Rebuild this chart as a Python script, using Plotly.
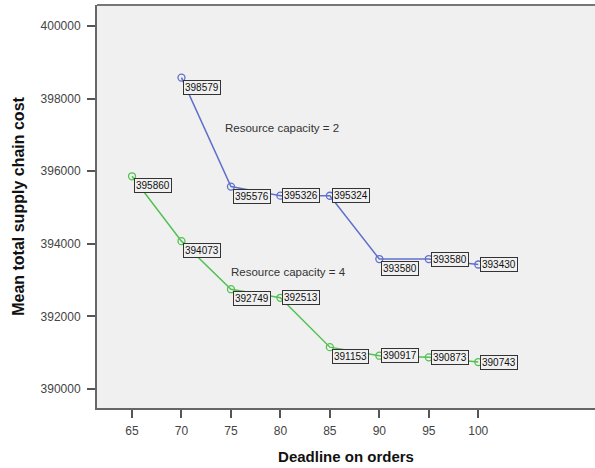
import plotly.graph_objects as go

deadline_cap2 = [70, 75, 80, 85, 90, 95, 100]
cost_cap2 = [398579, 395576, 395326, 395324, 393580, 393580, 393430]
deadline_cap4 = [65, 70, 75, 80, 85, 90, 95, 100]
cost_cap4 = [395860, 394073, 392749, 392513, 391153, 390917, 390873, 390743]
x_ticks = [65, 70, 75, 80, 85, 90, 95, 100]
y_ticks = [390000, 392000, 394000, 396000, 398000, 400000]

# label placement styles (yanchor per point)
anchor_cap2 = ["top", "top", "middle", "middle", "top", "middle", "middle"]
anchor_cap4 = ["top", "top", "top", "middle", "top", "middle", "middle", "middle"]

blue = "#5f70cc"
green = "#52c152"
FONT = "Liberation Sans, Arial"

fig = go.Figure()
for xs, ys, col, name in [(deadline_cap2, cost_cap2, blue, "Resource capacity = 2"),
                          (deadline_cap4, cost_cap4, green, "Resource capacity = 4")]:
    fig.add_trace(go.Scatter(x=xs, y=ys, mode="lines+markers", name=name,
                             line=dict(color=col, width=1.5),
                             marker=dict(symbol="circle-open", size=7, color=col, line=dict(width=1.3)),
                             showlegend=False))

annos = []
for xs, ys, anc in [(deadline_cap2, cost_cap2, anchor_cap2), (deadline_cap4, cost_cap4, anchor_cap4)]:
    for x, y, a in zip(xs, ys, anc):
        annos.append(dict(x=x, y=y, text=str(y), showarrow=False, xanchor="left", yanchor=a,
                          xshift=2, yshift=(-2 if a == "top" else 0),
                          font=dict(family=FONT, size=10, color="#111111"),
                          bgcolor="#f0f0f0", bordercolor="#333333", borderwidth=1, borderpad=1))
annos.append(dict(x=80.2, y=397202, text="Resource capacity = 2", showarrow=False,
                  font=dict(family=FONT, size=11.5, color="#333333")))
annos.append(dict(x=80.8, y=393210, text="Resource capacity = 4", showarrow=False,
                  font=dict(family=FONT, size=11.5, color="#333333")))

fig.update_layout(
    width=595, height=468,
    margin=dict(l=97, r=0, t=5, b=60, autoexpand=False),
    paper_bgcolor="white", plot_bgcolor="#f0f0f0",
    font=dict(family=FONT, size=12, color="#333333"),
    annotations=annos,
    shapes=[dict(type="line", xref="paper", yref="paper", x0=0, x1=1, y0=1, y1=1,
                 line=dict(color="#777777", width=2))],
    xaxis=dict(range=[61.46, 111.8], tickvals=x_ticks, ticks="outside", ticklen=8, tickwidth=1.5,
               tickcolor="#555555", showline=True, linecolor="#666666", linewidth=2,
               showgrid=False, zeroline=False, automargin=False, ticklabelstandoff=3,
               tickfont=dict(size=12, color="#444444"),
               title=dict(text="<b>Deadline on orders</b>", font=dict(size=15, color="#111111"), standoff=14)),
    yaxis=dict(range=[389477, 400578], tickvals=y_ticks, ticks="outside", ticklen=8, tickwidth=1.5,
               tickcolor="#555555", showline=True, linecolor="#666666", linewidth=2,
               showgrid=False, zeroline=False, automargin=False, ticklabelstandoff=4, tickformat="d",
               tickfont=dict(size=12, color="#444444"),
               title=dict(text="<b>Mean total supply chain cost</b>", font=dict(size=16, color="#111111"), standoff=12)),
)
fig.write_html("out.html", config={"displayModeBar": False},
               post_script="document.body.style.margin='0';")
